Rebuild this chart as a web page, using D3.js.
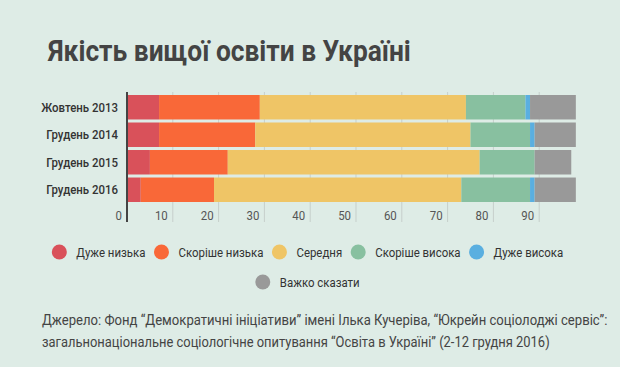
<!DOCTYPE html>
<html>
<head>
<meta charset="utf-8">
<script src="https://cdn.jsdelivr.net/npm/d3@7"></script>
<style>
  html, body { margin: 0; padding: 0; background: #deece6; }
  svg { display: block; font-family: Roboto, "Noto Sans", sans-serif; }
</style>
</head>
<body>
<svg id="chart" width="620" height="367"></svg>
<script>
const title = "Якість вищої освіти в Україні";
const categories = ["Жовтень 2013", "Грудень 2014", "Грудень 2015", "Грудень 2016"];
const seriesNames = ["Дуже низька", "Скоріше низька", "Середня", "Скоріше висока", "Дуже висока", "Важко сказати"];
const seriesColors = ["#d9515a", "#f96838", "#efc566", "#88c0a0", "#5aafe0", "#999999"];
const veryLow   = [7, 7, 5, 3];
const ratherLow = [22, 21, 17, 16];
const medium    = [45, 47, 55, 54];
const ratherHigh= [13, 13, 12, 15];
const veryHigh  = [1, 1, 0, 1];
const hardToSay = [10, 9, 8, 9];
const tickValues = [0, 10, 20, 30, 40, 50, 60, 70, 80, 90];
const sourceLines = [
  "Джерело: Фонд “Демократичні ініціативи” імені Ілька Кучеріва, “Юкрейн соціолоджі сервіс”:",
  "загальнонаціональне соціологічне опитування “Освіта в Україні” (2-12 грудня 2016)"
];

const seriesValues = [veryLow, ratherLow, medium, ratherHigh, veryHigh, hardToSay];
const rows = categories.map((c, i) => {
  const r = { cat: c };
  seriesNames.forEach((s, j) => r[s] = seriesValues[j][i]);
  return r;
});
const stacked = d3.stack().keys(seriesNames)(rows);

const svg = d3.select("#chart");
const x = d3.scaleLinear().domain([0, 100]).range([127, 585]);
const y = d3.scaleBand().domain(categories).range([95, 202]).paddingInner(0.11).paddingOuter(0);
const condense = 0.88;

// draws a text horizontally squeezed by a scale transform (condensed look)
function squeezedText(parent, str, ax, ay, anchor, sx, attrs) {
  const t = parent.append("text").text(str).attr("text-anchor", anchor);
  Object.entries(attrs).forEach(([k, v]) => t.attr(k, v));
  t.attr("transform", `translate(${ax},${ay}) scale(${sx},1)`);
  return t;
}
function fitText(parent, str, ax, ay, targetW, attrs) {
  const t = parent.append("text").text(str);
  Object.entries(attrs).forEach(([k, v]) => t.attr(k, v));
  const w = t.node().getComputedTextLength();
  t.attr("transform", `translate(${ax},${ay}) scale(${targetW / w},1)`);
  return t;
}

// title
fitText(svg, title, 48, 61, 363, { "font-size": 29, "font-weight": 700, fill: "#444" });

// gridlines
svg.append("g").selectAll("line").data(tickValues.filter(d => d > 0)).join("line")
  .attr("x1", d => x(d)).attr("x2", d => x(d))
  .attr("y1", 92).attr("y2", 222)
  .attr("stroke", "#c6cfcb").attr("stroke-width", 1);

// bars
svg.append("g").selectAll("g").data(stacked).join("g")
  .attr("fill", (d, i) => seriesColors[i])
  .selectAll("rect").data(d => d).join("rect")
  .attr("x", d => x(d[0]))
  .attr("width", d => x(d[1]) - x(d[0]))
  .attr("y", d => y(d.data.cat))
  .attr("height", y.bandwidth());

// axis line
svg.append("line")
  .attr("x1", 127).attr("x2", 127).attr("y1", 92).attr("y2", 222)
  .attr("stroke", "#444").attr("stroke-width", 2);

// tick labels
const tg = svg.append("g");
tickValues.forEach(v => squeezedText(tg, v, x(v) - 5, 220, "end", condense,
  { "font-size": 13, fill: "#555" }));

// category labels
const cg = svg.append("g");
categories.forEach(c => squeezedText(cg, c, 118, y(c) + y.bandwidth() / 2 + 4.5, "end", condense,
  { "font-size": 13, "font-weight": 500, fill: "#333" }));

// legend
const legendRows = [[0, 1, 2, 3, 4], [5]];
const legendY = [252, 282];
legendRows.forEach((idxs, ri) => {
  const g = svg.append("g");
  const items = idxs.map(i => {
    const it = g.append("g");
    it.append("circle").attr("r", 7.5).attr("fill", seriesColors[i]);
    const t = squeezedText(it, seriesNames[i], 17, 4.5, "start", condense,
      { "font-size": 13, fill: "#333" });
    const w = t.node().getComputedTextLength() * condense;
    return { it, w };
  });
  const widths = items.map(d => 7.5 + 17 + d.w);
  const gap = 8.5;
  const total = d3.sum(widths) + gap * (items.length - 1);
  let cx = 307.5 - total / 2;
  items.forEach((d, k) => {
    d.it.attr("transform", `translate(${cx + 7.5},${legendY[ri]})`);
    cx += widths[k] + gap;
  });
});

// source
const sg = svg.append("g");
sourceLines.forEach((s, i) => fitText(sg, s, 42, 325 + i * 21.5, i === 0 ? 566 : 508,
  { "font-size": 14, fill: "#444" }));
</script>
</body>
</html>
